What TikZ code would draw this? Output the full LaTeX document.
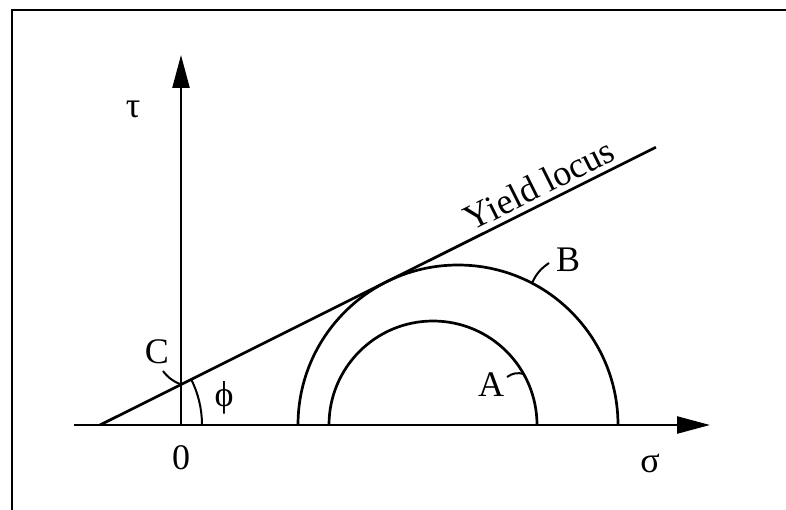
\documentclass[tikz,border=0pt]{standalone}
\usepackage{fontspec}
\setmainfont{Liberation Serif}
\usetikzlibrary{arrows.meta, positioning, calc}

\begin{document}
\begin{tikzpicture}[x=1pt, y=1pt,
  axis/.style={line width=2.4pt, -{Triangle[length=33pt, width=17pt]}},
  curve/.style={line width=2.7pt},
  leader/.style={line width=2pt},
  lbl/.style={font=\fontsize{36}{38}\selectfont, inner sep=0pt}
]
  \useasboundingbox (-181,-84) rectangle (605,425);
  % frame (only left and top edges show)
  \draw[line width=2.6pt] (-169,-95) -- (-169,415) -- (612,415);

  \coordinate (O) at (0,0);
  \coordinate (P) at (-81,0);
  \draw[axis] (-107,0) -- (529,0);
  \draw[axis] (O) -- (0,370);

  % Mohr circles
  \draw[curve] (437,0) arc[start angle=0, end angle=180, radius=160];
  \draw[curve] (356,0) arc[start angle=0, end angle=180, radius=104];

  % yield locus and angle
  \draw[curve] (P) -- ++(26.55:621.5)
    node[pos=0.805, sloped, above=5pt, font=\fontsize{36}{38}\selectfont,
         inner sep=0pt] (yl) {Yield locus};
  \draw[leader] (P) ++(102,0) arc[start angle=0, end angle=26.55, radius=102];

  \node[lbl] (tau) at (-48,316) {τ};
  \node[lbl] (zero) at (0,-33) {0};
  \node[lbl] (sigma) at (469,-38) {σ};
  \node[lbl] (phi) at (43,27) {ϕ};
  \node[lbl] (c) at (-24,73) {C};
  \node[lbl] (a) at (310,40) {A};
  \node[lbl] (b) at (387,165) {B};

  % leaders
  \coordinate (cfoot) at (-18,54);
  \coordinate (cpt) at (-1,41);
  \draw[leader] (cfoot) to[bend right=15] (cpt);
  \coordinate (afoot) at (326,48);
  \coordinate (apt) at (343,51);
  \draw[leader] (afoot) to[bend left=25] (apt);
  \coordinate (bfoot) at (368,162);
  \coordinate (bpt) at (351,142);
  \draw[leader] (bfoot) to[bend right=15] (bpt);
\end{tikzpicture}
\end{document}
